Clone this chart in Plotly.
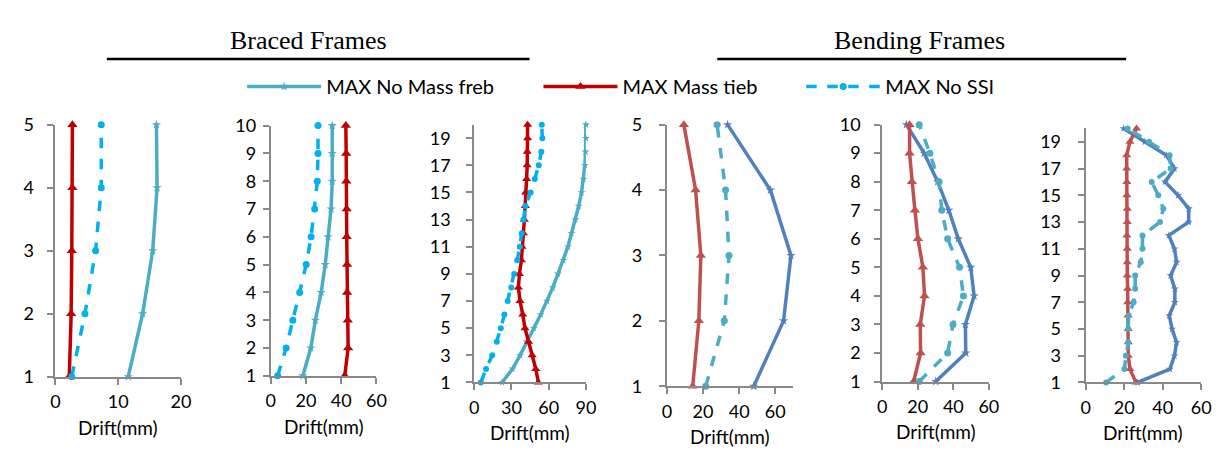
import plotly.graph_objects as go

W, H = 1222, 452

# ---------------- data ----------------
# Braced frames (drift in mm per floor)
p1_floors = [1, 2, 3, 4, 5]
p1_nomass = [11.6, 13.9, 15.5, 16.2, 16.1]
p1_mass = [2.2, 2.5, 2.6, 2.7, 2.7]
p1_nossi = [2.6, 4.7, 6.4, 7.3, 7.3]

p2_floors = [1, 2, 3, 4, 5, 6, 7, 8, 9, 10]
p2_nomass = [18.2, 22.7, 25.3, 28.6, 30.9, 32.5, 34.2, 34.9, 34.9, 34.9]
p2_mass = [42.0, 43.9, 43.7, 43.3, 43.3, 43.1, 43.1, 42.9, 42.8, 42.6]
p2_nossi = [3.9, 8.7, 12.5, 16.4, 20.1, 22.9, 24.9, 26.4, 26.8, 26.8]

p3_floors = list(range(1, 21))
p3_nomass = [22.4, 30.9, 36.9, 42.2, 48.0, 53.6, 58.6, 63.3, 67.5, 71.8,
             75.5, 78.4, 81.5, 84.2, 86.5, 88.1, 89.2, 89.7, 90.0, 90.0]
p3_mass = [51.7, 49.6, 46.7, 43.8, 40.9, 39.1, 36.9, 35.6, 36.4, 38.0,
           38.5, 39.6, 40.4, 41.2, 41.4, 42.2, 42.7, 42.7, 43.0, 43.0]
p3_nossi = [5.3, 9.5, 14.5, 18.2, 21.4, 24.3, 26.9, 29.8, 32.2, 34.6,
            36.7, 38.3, 39.6, 41.2, 45.4, 48.8, 52.0, 54.1, 54.9, 54.4]

# Bending frames
p4_floors = [1, 2, 3, 4, 5]
p4_blue = [48.1, 64.6, 68.7, 57.3, 33.6]
p4_red = [14.3, 17.7, 18.8, 15.9, 9.4]
p4_teal = [21.5, 31.8, 34.4, 32.5, 27.8]

p5_floors = [1, 2, 3, 4, 5, 6, 7, 8, 9, 10]
p5_blue = [30.1, 47.0, 46.8, 51.7, 49.8, 42.8, 37.5, 31.2, 23.6, 13.6]
p5_red = [17.7, 21.6, 21.4, 23.8, 22.9, 20.1, 18.4, 16.7, 15.4, 15.4]
p5_teal = [20.8, 36.8, 39.8, 45.7, 43.5, 36.8, 33.5, 32.0, 26.8, 20.8]

p6_floors = list(range(1, 21))
p6_blue = [26.9, 43.7, 46.1, 47.2, 44.9, 43.4, 46.3, 46.3, 44.1, 47.2,
           46.1, 43.2, 53.5, 53.5, 48.0, 41.2, 46.1, 41.9, 30.7, 19.7]
p6_red = [26.1, 23.0, 22.1, 22.1, 22.1, 22.0, 21.8, 21.8, 21.6, 21.6,
          21.6, 21.4, 21.6, 21.6, 21.4, 21.4, 21.3, 21.3, 23.0, 26.4]
p6_teal = [10.6, 20.1, 20.9, 22.1, 22.1, 22.3, 24.9, 25.7, 25.7, 28.6,
           29.5, 29.5, 38.6, 40.3, 37.7, 34.3, 44.1, 43.6, 32.9, 21.8]

legend_names = ["MAX No Mass freb", "MAX Mass tieb", "MAX No SSI"]
group_titles = ["Braced Frames", "Bending Frames"]
x_title = "Drift(mm)"

# ---------------- layout ----------------
def px_x(v):
    return v / W

def px_y(v):
    return 1 - v / H

# pixel boxes of the plot areas: (left, right, top, bottom)
boxes = [
    (43, 170, 110, 375),
    (261, 368, 111, 374),
    (467, 580, 110, 381),
    (662, 790, 110, 385),
    (880, 988, 110, 380),
    (1086, 1203, 114, 381),
]
x_ranges = [[0, 20], [0, 60], [0, 90], [0, 70], [0, 60], [0, 60]]
x_ticks = [[0, 10, 20], [0, 20, 40, 60], [0, 30, 60, 90],
           [0, 20, 40, 60], [0, 20, 40, 60], [0, 20, 40, 60]]
y_ranges = [[1, 5], [1, 10], [1, 20], [1, 5], [1, 10], [1, 20]]
y_ticks = [[1, 2, 3, 4, 5], list(range(1, 11)), list(range(1, 20, 2)),
           [1, 2, 3, 4, 5], list(range(1, 11)), list(range(1, 20, 2))]
y_standoff = [10, 3, 12, 13, 10, 13]

TEAL = "#4BACC6"
RED_B = "#C00000"
CYAN = "#00B0F0"
BLUE = "#4F81BD"
RED_N = "#C0504D"
AXIS = "#898989"
FONT = "Lato"
TICK_FS = 18
LABEL_FS = 19
LEG_FS = 20

fig = go.Figure()

def add(i, x, y, color, dash, symbol, msize, name=None, legend=None):
    sfx = "" if i == 1 else str(i)
    fig.add_trace(go.Scatter(
        x=x, y=y, mode="lines+markers",
        line=dict(color=color, width=3.5, dash=dash),
        marker=dict(symbol=symbol, size=msize, color=color),
        xaxis="x" + sfx, yaxis="y" + sfx,
        name=name if name else "",
        showlegend=legend is not None,
        legend=legend if legend else "legend",
        cliponaxis=False,
    ))

add(1, p1_nomass, p1_floors, TEAL, "solid", "star", 7, legend_names[0], "legend")
add(1, p1_mass, p1_floors, RED_B, "solid", "triangle-up", 9, legend_names[1], "legend2")
add(1, p1_nossi, p1_floors, CYAN, "dash", "circle", 7, legend_names[2], "legend3")
add(2, p2_nomass, p2_floors, TEAL, "solid", "star", 7)
add(2, p2_mass, p2_floors, RED_B, "solid", "triangle-up", 9)
add(2, p2_nossi, p2_floors, CYAN, "dash", "circle", 7)
add(3, p3_nomass, p3_floors, TEAL, "solid", "star", 6)
add(3, p3_mass, p3_floors, RED_B, "solid", "triangle-up", 8)
add(3, p3_nossi, p3_floors, CYAN, "dash", "circle", 6)
add(4, p4_blue, p4_floors, BLUE, "solid", "star", 7)
add(4, p4_red, p4_floors, RED_N, "solid", "triangle-up", 9)
add(4, p4_teal, p4_floors, TEAL, "dash", "circle", 7)
add(5, p5_blue, p5_floors, BLUE, "solid", "star", 7)
add(5, p5_red, p5_floors, RED_N, "solid", "triangle-up", 9)
add(5, p5_teal, p5_floors, TEAL, "dash", "circle", 7)
add(6, p6_blue, p6_floors, BLUE, "solid", "star", 6)
add(6, p6_red, p6_floors, RED_N, "solid", "triangle-up", 8)
add(6, p6_teal, p6_floors, TEAL, "dash", "circle", 6)

layout = dict(
    width=W, height=H,
    margin=dict(l=0, r=0, t=0, b=0),
    paper_bgcolor="white", plot_bgcolor="white",
    font=dict(family=FONT, size=TICK_FS, color="#000000"),
    annotations=[], shapes=[],
)

for i, (l, r, t, b) in enumerate(boxes, start=1):
    sfx = "" if i == 1 else str(i)
    layout["xaxis" + sfx] = dict(
        domain=[px_x(l), px_x(r)], range=x_ranges[i - 1],
        tickvals=x_ticks[i - 1], anchor="y" + sfx,
        showline=True, linecolor=AXIS, linewidth=2,
        ticks="outside", ticklen=6, tickcolor=AXIS, tickwidth=2,
        showgrid=False, zeroline=False, ticklabelstandoff=2,
        tickfont=dict(family=FONT, size=TICK_FS),
    )
    layout["yaxis" + sfx] = dict(
        domain=[px_y(b), px_y(t)], range=y_ranges[i - 1],
        tickvals=y_ticks[i - 1], anchor="x" + sfx,
        showline=True, linecolor=AXIS, linewidth=2,
        ticks="outside", ticklen=6, tickcolor=AXIS, tickwidth=2,
        showgrid=False, zeroline=False, ticklabelstandoff=y_standoff[i - 1],
        tickfont=dict(family=FONT, size=TICK_FS),
    )
    layout["annotations"].append(dict(
        text=x_title, xref="paper", yref="paper",
        x=px_x((l + r) / 2), y=px_y(b + 53),
        xanchor="center", yanchor="middle", showarrow=False,
        font=dict(family=FONT, size=LABEL_FS, color="#000000"),
    ))

for title, cx, (x0, x1) in [(group_titles[0], 299, (95, 523)),
                            (group_titles[1], 918, (713, 1127))]:
    layout["annotations"].append(dict(
        text=title, xref="paper", yref="paper",
        x=px_x(cx), y=px_y(22), xanchor="center", yanchor="middle",
        showarrow=False,
        font=dict(family="Liberation Serif", size=26, color="#000000"),
    ))
    layout["shapes"].append(dict(
        type="line", xref="paper", yref="paper",
        x0=px_x(x0), x1=px_x(x1), y0=px_y(41), y1=px_y(41),
        line=dict(color="#000000", width=2.5),
    ))

leg_common = dict(orientation="h", yanchor="middle", xanchor="left",
                  bgcolor="rgba(0,0,0,0)", itemwidth=74,
                  font=dict(family=FONT, size=LEG_FS, color="#000000"))
layout["legend"] = dict(x=px_x(232), y=px_y(70), **leg_common)
layout["legend2"] = dict(x=px_x(532), y=px_y(70), **leg_common)
layout["legend3"] = dict(x=px_x(798), y=px_y(70), **leg_common)

fig.update_layout(**layout)
fig.write_html("out.html")
